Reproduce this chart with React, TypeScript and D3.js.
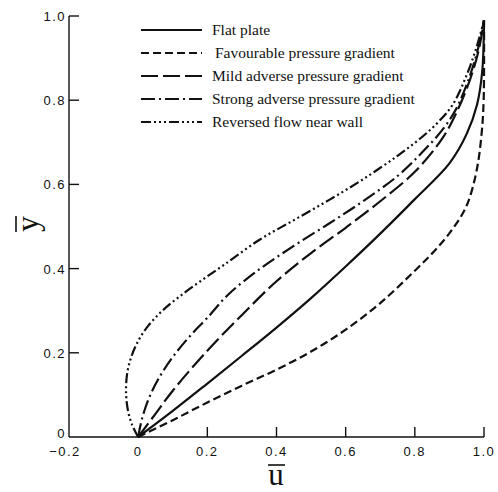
import { useEffect, useRef } from "react";
import * as d3 from "d3";

// velocity profiles (u = velocity, y = height)
const flatU = [0, 0.1, 0.2, 0.3, 0.4, 0.5, 0.6, 0.7, 0.8, 0.9, 0.95, 0.98, 0.995, 1.0];
const flatY = [0, 0.062, 0.127, 0.193, 0.26, 0.33, 0.405, 0.483, 0.565, 0.65, 0.72, 0.79, 0.87, 0.99];

const favU = [0, 0.1, 0.2, 0.3, 0.4, 0.5, 0.6, 0.7, 0.8, 0.86, 0.91, 0.95, 0.978, 0.993, 0.999, 1.0];
const favY = [0, 0.04, 0.082, 0.122, 0.16, 0.203, 0.255, 0.318, 0.395, 0.445, 0.495, 0.55, 0.63, 0.72, 0.8, 0.99];

const mildU = [0, 0.05, 0.1, 0.2, 0.3, 0.4, 0.5, 0.6, 0.7, 0.8, 0.88, 0.92, 0.96, 0.985, 1.0];
const mildY = [0, 0.055, 0.11, 0.205, 0.29, 0.37, 0.437, 0.497, 0.56, 0.63, 0.71, 0.77, 0.85, 0.92, 0.99];

const strongU = [0, 0.01, 0.03, 0.06, 0.1, 0.15, 0.2, 0.26, 0.35, 0.45, 0.55, 0.65, 0.75, 0.82, 0.88, 0.92, 0.96, 0.985, 1.0];
const strongY = [0, 0.04, 0.09, 0.14, 0.19, 0.24, 0.283, 0.338, 0.398, 0.454, 0.506, 0.56, 0.62, 0.675, 0.73, 0.78, 0.86, 0.93, 0.99];

const revU = [0, -0.018, -0.03, -0.035, -0.032, -0.02, 0, 0.03, 0.07, 0.12, 0.18, 0.25, 0.35, 0.45, 0.55, 0.65, 0.75, 0.82, 0.87, 0.91, 0.95, 0.98, 1.0];
const revY = [0, 0.03, 0.065, 0.105, 0.15, 0.19, 0.228, 0.265, 0.3, 0.334, 0.37, 0.41, 0.468, 0.515, 0.562, 0.612, 0.668, 0.712, 0.75, 0.79, 0.86, 0.93, 0.99];

const seriesNames = [
  "Flat plate",
  "Favourable pressure gradient",
  "Mild adverse pressure gradient",
  "Strong adverse pressure gradient",
  "Reversed flow near wall",
];
const seriesDash = ["none", "8,4", "17,5", "14,4,2,4", "10,3,2,3,2,3,2,3"];
const seriesU = [flatU, favU, mildU, strongU, revU];
const seriesY = [flatY, favY, mildY, strongY, revY];

const xTicks = [-0.2, 0, 0.2, 0.4, 0.6, 0.8, 1.0];
const xTickLabels = ["\u22120.2", "0", "0.2", "0.4", "0.6", "0.8", "1.0"];
const yTicks = [0, 0.2, 0.4, 0.6, 0.8, 1.0];
const yTickLabels = ["0", "0.2", "0.4", "0.6", "0.8", "1.0"];

const W = 498;
const H = 492;

export default function App() {
  const svgRef = useRef<SVGSVGElement>(null);

  useEffect(() => {
    document.body.style.margin = "0";
    if (!svgRef.current) return;
    const svg = d3.select(svgRef.current);
    svg.selectAll("*").remove();

    const x = d3.scaleLinear().domain([-0.2, 1.0]).range([69, 484]);
    const y = d3.scaleLinear().domain([0, 1.0]).range([437, 16]);
    const ink = "#111";

    const axes = svg.append("g").attr("stroke", ink).attr("stroke-width", 1.4).attr("fill", "none");
    axes.append("line").attr("x1", x(-0.2)).attr("x2", x(-0.2)).attr("y1", y(1)).attr("y2", y(0));
    axes.append("line").attr("x1", x(-0.2)).attr("x2", x(1)).attr("y1", y(0)).attr("y2", y(0));

    // ticks point inward
    yTicks.slice(1).forEach((t) => {
      axes.append("line").attr("x1", x(-0.2)).attr("x2", x(-0.2) + 10).attr("y1", y(t)).attr("y2", y(t));
    });
    xTicks.slice(2).forEach((t) => {
      axes.append("line").attr("x1", x(t)).attr("x2", x(t)).attr("y1", y(0)).attr("y2", y(0) - 10);
    });

    const tickFont = "'Liberation Sans', Arial, sans-serif";
    yTicks.forEach((t, i) => {
      svg.append("text")
        .attr("x", x(-0.2) - 3)
        .attr("y", t === 0 ? y(t) + 1 : y(t) + 5)
        .attr("text-anchor", "end")
        .attr("font-family", tickFont).attr("font-size", 13).attr("letter-spacing", 1.5)
        .attr("fill", ink)
        .text(yTickLabels[i]);
    });
    xTicks.forEach((t, i) => {
      svg.append("text")
        .attr("x", x(t) + (i === 0 ? -4 : 0))
        .attr("y", 456)
        .attr("text-anchor", "middle")
        .attr("font-family", tickFont).attr("font-size", 13).attr("letter-spacing", 1.5)
        .attr("fill", ink)
        .text(xTickLabels[i]);
    });

    // axis titles with overbars
    const serif = "'Liberation Serif', 'Times New Roman', serif";
    svg.append("text").attr("x", 276).attr("y", 485).attr("text-anchor", "middle")
      .attr("font-family", serif).attr("font-size", 31).attr("fill", ink).text("u");
    svg.append("line").attr("x1", 268).attr("x2", 285).attr("y1", 465).attr("y2", 465)
      .attr("stroke", ink).attr("stroke-width", 1.6);
    const yl = svg.append("g").attr("transform", "translate(38,224) rotate(-90)");
    yl.append("text").attr("text-anchor", "middle")
      .attr("font-family", serif).attr("font-size", 32).attr("fill", ink).text("y");
    yl.append("line").attr("x1", -8).attr("x2", 8).attr("y1", -22).attr("y2", -22)
      .attr("stroke", ink).attr("stroke-width", 1.6);

    const line = d3.line<[number, number]>()
      .x((d) => x(d[0]))
      .y((d) => y(d[1]))
      .curve(d3.curveCatmullRom.alpha(0.5));

    seriesNames.forEach((name, i) => {
      const pts = seriesU[i].map((u, k) => [u, seriesY[i][k]] as [number, number]);
      svg.append("path")
        .attr("d", line(pts))
        .attr("fill", "none")
        .attr("stroke", ink)
        .attr("stroke-width", 2.2)
        .attr("stroke-dasharray", seriesDash[i]);

      const ly = 30 + i * 23;
      svg.append("line").attr("x1", 141).attr("x2", 202).attr("y1", ly).attr("y2", ly)
        .attr("stroke", ink).attr("stroke-width", 2.2).attr("stroke-dasharray", seriesDash[i]);
      svg.append("text").attr("x", i === 1 ? 215 : 212).attr("y", ly + 5)
        .attr("font-family", serif).attr("font-size", 15.5).attr("fill", ink)
        .text(name);
    });
  }, []);

  return <svg ref={svgRef} width={W} height={H} style={{ display: "block", background: "#fff" }} />;
}
